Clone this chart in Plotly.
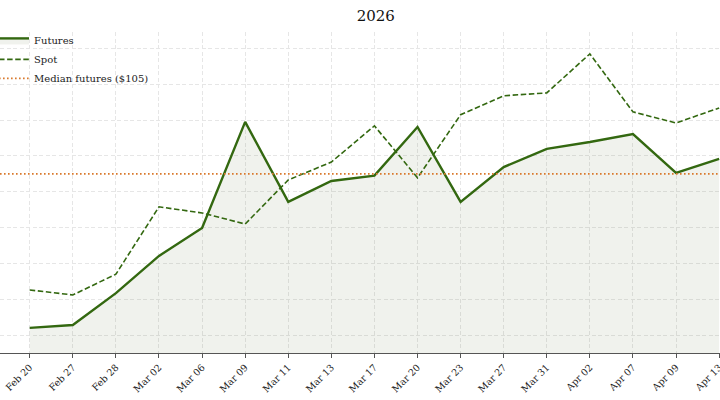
import plotly.graph_objects as go

# data
dates = ["Feb 20", "Feb 27", "Feb 28", "Mar 02", "Mar 06", "Mar 09", "Mar 11", "Mar 13", "Mar 17",
         "Mar 20", "Mar 23", "Mar 27", "Mar 31", "Apr 02", "Apr 07", "Apr 09", "Apr 13"]
futures = [62.0, 62.8, 71.7, 82.1, 89.9, 119.5, 97.2, 103.0, 104.5,
           118.1, 97.2, 106.9, 112.0, 113.9, 116.1, 105.3, 109.2]
spot = [72.6, 71.2, 77.0, 95.8, 94.1, 91.0, 103.3, 108.3, 118.4,
        103.9, 121.5, 126.8, 127.6, 138.5, 122.3, 119.2, 123.4]
median_futures = 105

GREEN = "#336810"
ORANGE = "#d9782b"
SERIF = "DejaVu Serif, serif"
GRID = "#e6e6e6"

fig = go.Figure()

fig.add_trace(go.Scatter(
    x=dates, y=futures, name="Futures", mode="lines",
    line=dict(color=GREEN, width=2.4),
    fill="tozeroy", fillcolor="rgba(60,90,30,0.08)",
))
fig.add_trace(go.Scatter(
    x=dates, y=spot, name="Spot", mode="lines",
    line=dict(color=GREEN, width=1.6, dash="5.5px,2.6px"),
))
fig.add_hline(
    y=median_futures, line=dict(color=ORANGE, width=1.6, dash="1.6px,2.4px"),
    name=f"Median futures (${median_futures})", showlegend=True,
)

fig.update_layout(
    width=720, height=400,
    margin=dict(l=0, r=0, t=32, b=47, autoexpand=False),
    paper_bgcolor="white", plot_bgcolor="white",
    font=dict(family=SERIF, color="#222"),
    title=dict(text="2026", x=0.522, xanchor="center", y=0.975, yanchor="top",
               font=dict(family=SERIF, size=15, color="#111")),
    showlegend=True,
    legend=dict(x=-0.0083, y=1.019, xanchor="left", yanchor="top",
                bgcolor="rgba(0,0,0,0)", font=dict(family=SERIF, size=10),
                tracegroupgap=0, itemwidth=30),
    xaxis=dict(
        type="category", range=[-0.69, 16.02], automargin=False,
        tickangle=-45, tickfont=dict(family=SERIF, size=9.5, color="#222"),
        showgrid=True, gridcolor=GRID, griddash="4px,2.5px", gridwidth=1,
        showline=True, linecolor="#555", linewidth=1.3,
        ticks="outside", ticklen=4, tickcolor="#555",
        zeroline=False,
    ),
    yaxis=dict(
        range=[55, 144.6], dtick=10, tick0=0, automargin=False,
        showticklabels=False, ticks="",
        showgrid=True, gridcolor=GRID, griddash="4px,2.5px", gridwidth=1,
        showline=False, zeroline=False,
    ),
)

# the page's default body margin would shift the figure by 8px
fig.write_html("out.html", config={"displayModeBar": False},
               post_script="document.body.style.margin = '0';")
